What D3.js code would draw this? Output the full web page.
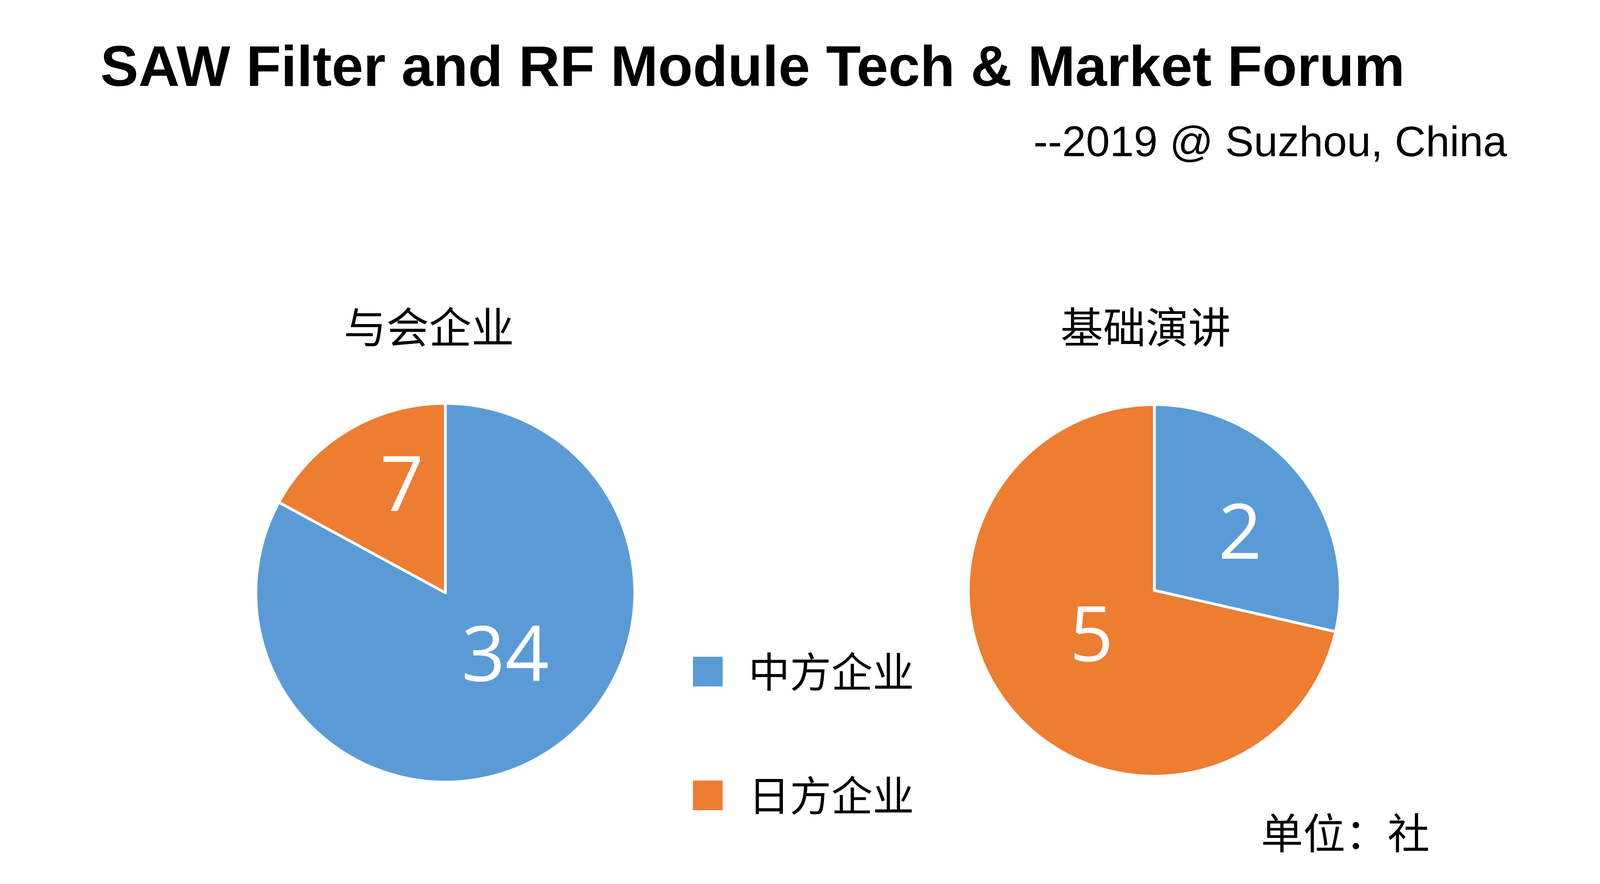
<!DOCTYPE html>
<html>
<head>
<meta charset="utf-8">
<script src="https://cdn.jsdelivr.net/npm/d3@7"></script>
<style>
  html, body { margin: 0; padding: 0; background: #fff; }
  svg { display: block; }
</style>
</head>
<body>
<div class="chart"></div>
<script>
// data
const categories = ['中方企业', '日方企业'];
const chartTitles = ['与会企业', '基础演讲'];
const attendees = [34, 7];
const keynotes = [2, 5];

const title = 'SAW Filter and RF Module Tech & Market Forum';
const subtitle = '--2019 @ Suzhou, China';
const unitLabel = '单位：社';

const width = 4139, height = 2264;
const colors = d3.scaleOrdinal().domain(categories).range(['#5B9BD5', '#ED7D31']);

const cjk = '"Noto Sans CJK SC", "Noto Sans", sans-serif';

const svg = d3.select('.chart').append('svg')
    .attr('width', width)
    .attr('height', height)
    .attr('viewBox', [0, 0, width, height]);

svg.append('rect').attr('width', width).attr('height', height).attr('fill', '#fff');

svg.append('text')
    .attr('x', 257).attr('y', 220)
    .attr('font-family', '"Liberation Sans", Arial, sans-serif')
    .attr('font-weight', 'bold')
    .attr('font-size', 146)
    .text(title);

svg.append('text')
    .attr('x', 3858).attr('y', 400)
    .attr('text-anchor', 'end')
    .attr('font-family', '"Liberation Sans", Arial, sans-serif')
    .attr('font-size', 110)
    .text(subtitle);

// pie layout per chart (label spot: fraction of radius + small angle shift, like excel's placement)
const pies = [
    {values: attendees, title: chartTitles[0], cx: 1140, cy: 1518, r: 485, titleX: 1098,
     labelAt: [{f: 0.45, a: -14}, {f: 0.62, a: 9}]},
    {values: keynotes, title: chartTitles[1], cx: 2955, cy: 1512, r: 476, titleX: 2933,
     labelAt: [{f: 0.56, a: 4}, {f: 0.41, a: 4}]}
];

const pie = d3.pie().sort(null).value(d => d);

pies.forEach(p => {
    const g = svg.append('g').attr('transform', `translate(${p.cx},${p.cy})`);
    const arcs = pie(p.values);
    const arc = d3.arc().innerRadius(0).outerRadius(p.r);

    g.selectAll('path')
        .data(arcs)
        .join('path')
        .attr('d', arc)
        .attr('fill', (d, i) => colors(categories[i]))
        .attr('stroke', '#fff')
        .attr('stroke-width', 7)
        .attr('stroke-linejoin', 'round');

    g.selectAll('text.val')
        .data(arcs)
        .join('text')
        .attr('class', 'val')
        .attr('transform', (d, i) => {
            const la = p.labelAt[i];
            const ang = (d.startAngle + d.endAngle) / 2 + la.a * Math.PI / 180;
            const rr = p.r * la.f;
            return `translate(${rr * Math.sin(ang)},${-rr * Math.cos(ang)})`;
        })
        .attr('text-anchor', 'middle')
        .attr('dy', '0.36em')
        .attr('fill', '#fff')
        .attr('font-family', '"Open Sans", "Noto Sans", sans-serif')
        .attr('font-size', 196)
        .text(d => d.data);

    svg.append('text')
        .attr('x', p.titleX).attr('y', 879)
        .attr('text-anchor', 'middle')
        .attr('font-family', cjk)
        .attr('font-size', 109)
        .text(p.title);
});

// legend
const legend = svg.append('g');
const legendY = d3.scalePoint().domain(categories).range([1720, 2037]);

legend.selectAll('rect')
    .data(categories)
    .join('rect')
    .attr('x', 1774)
    .attr('y', d => legendY(d) - 38)
    .attr('width', 76)
    .attr('height', 76)
    .attr('fill', d => colors(d));

legend.selectAll('text')
    .data(categories)
    .join('text')
    .attr('x', 1916)
    .attr('y', d => legendY(d) + 40)
    .attr('font-family', cjk)
    .attr('font-size', 106)
    .text(d => d);

svg.append('text')
    .attr('x', 3228).attr('y', 2174)
    .attr('font-family', cjk)
    .attr('font-size', 108)
    .text(unitLabel);
</script>
</body>
</html>
